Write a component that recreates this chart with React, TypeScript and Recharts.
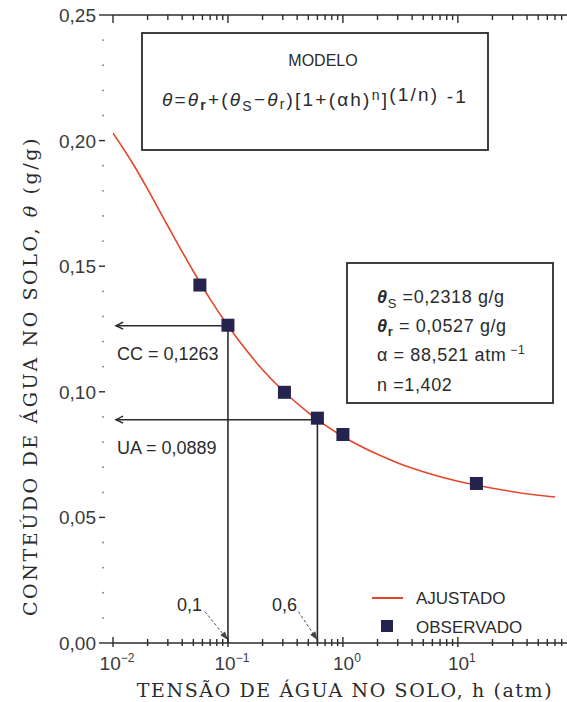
import React from 'react';
import { ComposedChart, Line, Scatter, XAxis, YAxis, ReferenceLine } from 'recharts';

// fitted van Genuchten curve
const curveH = [0.01, 0.015, 0.02, 0.03, 0.05, 0.07, 0.1, 0.15, 0.2, 0.3, 0.5, 0.6, 1, 2, 3, 5, 10, 20, 50, 70];
const curveTheta = [0.203, 0.1906, 0.1807, 0.166, 0.148, 0.1369, 0.1263, 0.1156, 0.1088, 0.1005, 0.0917, 0.0889, 0.0822, 0.0751, 0.0717, 0.0682, 0.0644, 0.0616, 0.0588, 0.0581];

// observed points
const obsH = [0.057, 0.1, 0.31, 0.6, 1.0, 14.5];
const obsTheta = [0.1425, 0.1265, 0.0998, 0.0895, 0.083, 0.0635];

const yTicks = [0, 0.01, 0.02, 0.03, 0.04, 0.05, 0.06, 0.07, 0.08, 0.09, 0.1, 0.11, 0.12, 0.13, 0.14, 0.15, 0.16, 0.17, 0.18, 0.19, 0.2, 0.21, 0.22, 0.23, 0.24, 0.25];
const decades = [0.01, 0.1, 1, 10];
const decadeExp = ['\u22122', '\u22121', '0', '1'];
const xMax = 89;

// CC / UA annotations
const ccTheta = 0.1263;
const ccH = 0.1;
const uaTheta = 0.0889;
const uaH = 0.6;

const curve = curveH.map((h, i) => ({ h, theta: curveTheta[i] }));
const observed = obsH.map((h, i) => ({ h, theta: obsTheta[i] }));
const xTicks = decades
  .flatMap((d) => [1, 2, 3, 4, 5, 6, 7, 8, 9].map((k) => +(d * k).toPrecision(2)))
  .filter((v) => v <= xMax);

const TOP = 15;
const BOTTOM = 643;

const SANS = 'Liberation Sans, Arial, sans-serif';
const SERIF = 'DejaVu Serif, serif';
const INK = '#2b2b2b';
const RED = '#e5452c';
const NAVY = '#24244f';

const isDecade = (v: number) => decades.some((d) => Math.abs(d - v) < 1e-9);

function LeftTick({ x, y, payload }: any) {
  const v = payload.value;
  const major = Math.round(v * 100) % 5 === 0;
  if (!major) return <circle cx={x - 10} cy={y} r={0.9} fill="#777" />;
  const edge = v === 0 || v === 0.25;
  return (
    <g>
      <line x1={x - 14} x2={edge ? x : x - 8} y1={y} y2={y} stroke={INK} strokeWidth={1.4} />
      <text x={x - 17} y={y + 7} textAnchor="end" fontSize={19} fontFamily={SANS} fill="#3a3a3a">
        {v.toFixed(2).replace('.', ',')}
      </text>
    </g>
  );
}

function BottomTick({ x, payload }: any) {
  const di = decades.findIndex((d) => Math.abs(d - payload.value) < 1e-9);
  const major = di >= 0;
  return (
    <g>
      <path d={`M${x},${BOTTOM + (major ? 4 : 3)} V${BOTTOM - (major ? 6 : 4)}`} stroke={INK} strokeWidth={1.4} fill="none" />
      {major && (
        <text x={x + 4} y={BOTTOM + 27} textAnchor="middle" fontSize={19} fontFamily={SANS} fill="#3a3a3a">
          10
          <tspan dy={-8} fontSize={12}>{decadeExp[di]}</tspan>
        </text>
      )}
    </g>
  );
}

function TopTick({ x, payload }: any) {
  const major = isDecade(payload.value);
  return <path d={`M${x},${TOP} V${TOP + (major ? 8 : 5)}`} stroke={INK} strokeWidth={1.4} fill="none" />;
}

function ArrowLine(props: any) {
  const { x1, y1, x2, y2 } = props;
  const a = Math.atan2(y1 - y2, x1 - x2);
  const l = 8;
  return (
    <g>
      <line x1={x1} y1={y1} x2={x2} y2={y2} stroke={INK} strokeWidth={1.6} />
      <path
        d={`M${x1 - l * Math.cos(a - 0.45)},${y1 - l * Math.sin(a - 0.45)} L${x1},${y1} L${x1 - l * Math.cos(a + 0.45)},${y1 - l * Math.sin(a + 0.45)}`}
        fill="none"
        stroke={INK}
        strokeWidth={1.4}
      />
    </g>
  );
}

function DashArrow(props: any) {
  const { x1, y1, x2, y2 } = props;
  const a = Math.atan2(y2 - y1, x2 - x1);
  const l = 9;
  return (
    <g>
      <line x1={x1} y1={y1} x2={x2} y2={y2} stroke="#555" strokeWidth={1} strokeDasharray="3 2" />
      <path
        d={`M${x2},${y2} L${x2 - l * Math.cos(a - 0.35)},${y2 - l * Math.sin(a - 0.35)} L${x2 - l * Math.cos(a + 0.35)},${y2 - l * Math.sin(a + 0.35)} Z`}
        fill="#444"
      />
    </g>
  );
}

function Square({ cx, cy }: any) {
  return <rect x={cx - 6.5} y={cy - 6.5} width={13} height={13} fill={NAVY} />;
}

export default function App() {
  return (
    <div style={{ position: 'absolute', left: 0, top: 0, width: 567, height: 702, background: '#fff' }}>
      <ComposedChart width={567} height={702} margin={{ top: TOP - 1, right: 0, bottom: 0, left: 0 }}>
        <XAxis
          dataKey="h"
          type="number"
          scale="log"
          domain={[0.01, xMax]}
          allowDataOverflow
          ticks={xTicks}
          interval={0}
          height={702 - BOTTOM}
          tickSize={0}
          tickMargin={0}
          tickLine={false}
          axisLine={{ stroke: INK, strokeWidth: 1.6 }}
          tick={BottomTick}
        />
        <XAxis
          xAxisId="top"
          orientation="top"
          dataKey="h"
          type="number"
          scale="log"
          domain={[0.01, xMax]}
          allowDataOverflow
          ticks={xTicks}
          interval={0}
          height={1}
          tickSize={0}
          tickMargin={0}
          tickLine={false}
          axisLine={{ stroke: INK, strokeWidth: 1.6 }}
          tick={TopTick}
        />
        <YAxis
          type="number"
          domain={[0, 0.25]}
          ticks={yTicks}
          interval={0}
          width={113}
          tickSize={0}
          tickMargin={0}
          tickLine={false}
          axisLine={false}
          tick={LeftTick}
        />
        <ReferenceLine segment={[{ x: 0.0106, y: ccTheta }, { x: ccH, y: ccTheta }]} shape={ArrowLine} />
        <ReferenceLine segment={[{ x: ccH, y: ccTheta }, { x: ccH, y: 0 }]} stroke={INK} strokeWidth={1.6} />
        <ReferenceLine segment={[{ x: 0.0106, y: uaTheta }, { x: uaH, y: uaTheta }]} shape={ArrowLine} />
        <ReferenceLine segment={[{ x: uaH, y: uaTheta }, { x: uaH, y: 0 }]} stroke={INK} strokeWidth={1.6} />
        <ReferenceLine segment={[{ x: 0.063, y: 0.0125 }, { x: ccH, y: 0.0012 }]} shape={DashArrow} />
        <ReferenceLine segment={[{ x: 0.41, y: 0.0125 }, { x: uaH, y: 0.0012 }]} shape={DashArrow} />
        <Line xAxisId="top" data={curve} dataKey="theta" type="monotone" stroke={RED} strokeWidth={1.6} dot={false} isAnimationActive={false} />
        <Scatter data={observed} dataKey="theta" fill={NAVY} shape={Square} isAnimationActive={false} />
      </ComposedChart>

      <svg width={567} height={702} style={{ position: 'absolute', left: 0, top: 0, pointerEvents: 'none' }}>
        {/* model box */}
        <rect x={142} y={33} width={346} height={117} fill="none" stroke={INK} strokeWidth={1.8} />
        <text x={323} y={66} textAnchor="middle" fontSize={16} fontFamily={SANS} fill={INK}>MODELO</text>
        <text x={162} y={106} fontSize={19} fontFamily={SANS} fill={INK} letterSpacing={2.2}>
          <tspan fontStyle="italic">θ</tspan>=<tspan fontStyle="italic">θ</tspan>
          <tspan dy={4} fontSize={14} fontWeight="bold">r</tspan>
          <tspan dy={-4}>+(</tspan><tspan fontStyle="italic">θ</tspan>
          <tspan dy={5} fontSize={14}>S</tspan>
          <tspan dy={-5}>−</tspan><tspan fontStyle="italic">θ</tspan>
          <tspan dy={3} fontSize={14}>r</tspan>
          <tspan dy={-3}>)[1+(αh)</tspan>
          <tspan dy={-6} fontSize={14}>n</tspan>
          <tspan dy={6}>]</tspan>
          <tspan dy={-5}>(1/n)</tspan>
          <tspan dy={2}> -1</tspan>
        </text>

        {/* parameter box */}
        <rect x={347} y={263} width={206} height={140} fill="none" stroke={INK} strokeWidth={1.8} />
        <g fontSize={18} fontFamily={SANS} fill={INK} letterSpacing={0.6}>
          <text x={377} y={303}>
            <tspan fontStyle="italic" fontWeight="bold">θ</tspan>
            <tspan dy={5} fontSize={13}>S</tspan>
            <tspan dy={-5}> =0,2318 g/g</tspan>
          </text>
          <text x={377} y={332}>
            <tspan fontStyle="italic" fontWeight="bold">θ</tspan>
            <tspan dy={4} fontSize={13} fontWeight="bold">r</tspan>
            <tspan dy={-4}> = 0,0527 g/g</tspan>
          </text>
          <text x={377} y={361}>
            α  = 88,521 atm<tspan dy={-7} fontSize={12}> −1</tspan>
          </text>
          <text x={377} y={391}>n  =1,402</text>
        </g>

        {/* annotation labels */}
        <g fontSize={18} fontFamily={SANS} fill={INK}>
          <text x={117} y={360}>CC = 0,1263</text>
          <text x={117} y={454}>UA = 0,0889</text>
          <text x={177} y={611}>0,1</text>
          <text x={272} y={611}>0,6</text>
        </g>

        {/* legend */}
        <line x1={372} x2={403} y1={598} y2={598} stroke={RED} strokeWidth={2} />
        <rect x={381} y={620} width={12} height={12} fill={NAVY} />
        <g fontSize={17} fontFamily={SANS} fill={INK}>
          <text x={416} y={604}>AJUSTADO</text>
          <text x={416} y={633}>OBSERVADO</text>
        </g>

        {/* axis titles */}
        <text x={345} y={697} textAnchor="middle" fontSize={19} fontFamily={SERIF} fill={INK} letterSpacing={1.6}>
          TENSÃO DE ÁGUA NO SOLO, h (atm)
        </text>
        <text
          x={0}
          y={0}
          transform="translate(37,376) rotate(-90)"
          textAnchor="middle"
          fontSize={19}
          fontFamily={SERIF}
          fill={INK}
          letterSpacing={2.6}
        >
          CONTEÚDO DE ÁGUA NO SOLO, <tspan fontStyle="italic">θ</tspan> (g/g)
        </text>
      </svg>
    </div>
  );
}
